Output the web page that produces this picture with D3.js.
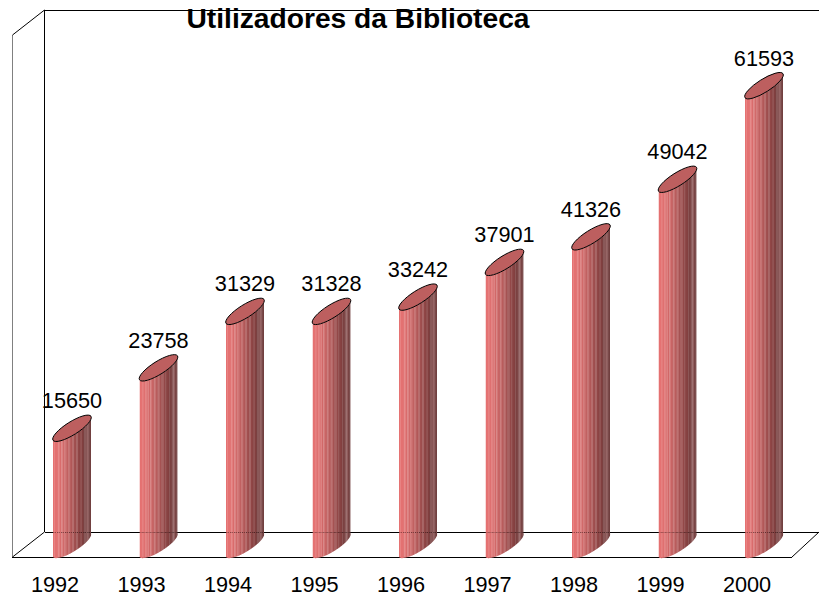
<!DOCTYPE html>
<html><head><meta charset="utf-8">
<script src="https://d3js.org/d3.v7.min.js"></script>
<style>html,body{margin:0;padding:0;background:#fff}svg{display:block}text{font-family:"Liberation Sans",Arial,sans-serif;fill:#000}</style>
</head><body><svg id="c" width="819" height="597"></svg>
<script>
const categories=["1992","1993","1994","1995","1996","1997","1998","1999","2000"];
const values=[15650,23758,31329,31328,33242,37901,41326,49042,61593];
const stripeColors=["#e57272","#e57272","#e37171","#df6f6f","#e58484","#d96c6c","#dd8282","#d16868","#d57e7e","#c96464","#c16060","#c97676","#b95c5c","#b15858","#b96c6c","#a55252","#9d4e4e","#a56060","#934848","#8b4444","#874242","#834040","#7b4040","#7d4646","#875555","#976565","#794444","#714040"];
const title="Utilizadores da Biblioteca";

const svg=d3.select("#c");
const front={x0:12,x1:792};
const dx=32.5,dy=-25;
const y=d3.scaleLinear().domain([0,70000]).range([557,35]);
const x=d3.scaleBand().domain(categories).range([front.x0,front.x0+86.5*categories.length]);
const barW=38,rise=24,barOff=41;
const frame=svg.append("g").attr("fill","none").attr("shape-rendering","crispEdges");
const topY=y(70000),base=y(0);
const line=(a,b,c,d,col)=>frame.append("line").attr("x1",a).attr("y1",b).attr("x2",c).attr("y2",d).attr("stroke",col);
line(12.5,topY,12.5,base,"#808080");
line(front.x0+dx,topY+dy,819,topY+dy,"#000");
line(front.x0+dx,topY+dy,front.x0+dx,base+dy,"#000");
line(front.x0+dx,base+dy,819,base+dy,"#000");
line(front.x0,base,front.x1,base,"#000");
const diag=svg.append("g").attr("fill","none").attr("stroke","#000").attr("stroke-width",1);
diag.append("line").attr("x1",12.5).attr("y1",topY).attr("x2",front.x0+dx).attr("y2",topY+dy);
diag.append("line").attr("x1",12.5).attr("y1",base).attr("x2",front.x0+dx).attr("y2",base+dy);
diag.append("line").attr("x1",front.x1).attr("y1",base).attr("x2",819).attr("y2",base+dy);

const major=Math.hypot(barW,rise)/2, minor=6.5, ang=-Math.atan2(rise,barW)*180/Math.PI;
const arc=(sweep,ex,ey)=>`A${major},${minor} ${ang} 0 ${sweep} ${ex},${ey}`;
const defs=svg.append("defs");
const bars=svg.append("g");
categories.forEach((c,i)=>{
  const l=x(c)+barOff, r=l+barW, t=y(values[i]), b=y(0);
  const id="clip"+i;
  defs.append("clipPath").attr("id",id).append("path")
    .attr("d",`M${l},${t} L${l},${b} ${arc(0,r,b-rise)} L${r},${t-rise} ${arc(1,l,t)} Z`);
  const g=bars.append("g").attr("clip-path",`url(#${id})`);
  const w=barW/stripeColors.length;
  g.selectAll("rect").data(stripeColors).join("rect")
    .attr("x",(d,k)=>l+k*w).attr("width",w+0.3).attr("y",t-rise-12).attr("height",b-t+rise+24).attr("fill",d=>d);
  g.append("line").attr("x1",l).attr("x2",r).attr("y1",base+dy+.5).attr("y2",base+dy+.5)
    .attr("stroke","#000").attr("stroke-opacity",.35).attr("stroke-dasharray","1 1");
  bars.append("path").attr("d",`M${l},${t} ${arc(1,r,t-rise)} ${arc(1,l,t)} Z`)
    .attr("fill","#bd5f5f").attr("stroke","#000").attr("stroke-width",1);
  bars.append("text").attr("x",l+19).attr("y",t-rise-8).attr("text-anchor","middle").attr("font-size",21.7).text(values[i]);
  bars.append("text").attr("x",l+2).attr("y",592).attr("text-anchor","middle").attr("font-size",21.7).text(c);
});
svg.append("text").attr("x",358).attr("y",28).attr("text-anchor","middle").attr("font-size",28.2).attr("font-weight","bold").text(title);
</script></body></html>
